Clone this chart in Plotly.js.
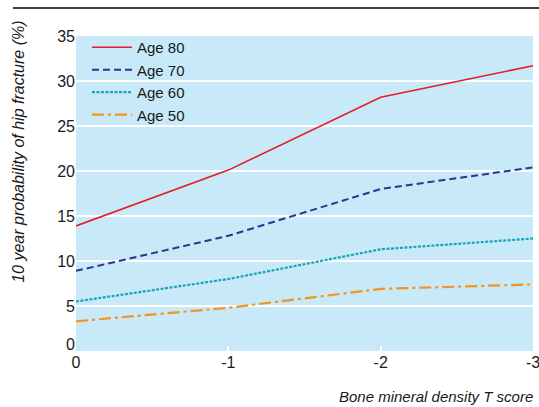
<!DOCTYPE html>
<html><head><meta charset="utf-8">
<script src="https://cdn.plot.ly/plotly-3.0.1.min.js"></script>
<style>body{margin:0;padding:0;background:#fff}#chart{width:539px;height:407px}</style>
</head><body><div id="chart"></div>
<script>
const tScores = [0, -1, -2, -3];
const age80 = [13.9, 20.1, 28.2, 31.7];
const age70 = [8.9, 12.8, 18.0, 20.4];
const age60 = [5.5, 8.0, 11.3, 12.5];
const age50 = [3.3, 4.8, 6.9, 7.4];
const seriesNames = ['Age 80', 'Age 70', 'Age 60', 'Age 50'];
const xTicks = [0, -1, -2, -3];
const yTicks = [0, 5, 10, 15, 20, 25, 30, 35];

const FONT = '"Liberation Sans", Arial, sans-serif';
const tf = {family: FONT, size: 16, color: '#1a1a1a'};
const lf = {family: FONT, size: 15, color: '#1a1a1a'};
const styles = [
  {color: '#e31e26', dash: 'solid', width: 1.6},
  {color: '#2b3590', dash: '7px,4px', width: 2},
  {color: '#17a6b6', dash: '3px,1.5px', width: 2.2},
  {color: '#f5931f', dash: '12px,4px,3px,4px', width: 2.2}
];
const data = [age80, age70, age60, age50].map((ys, i) => ({
  x: tScores, y: ys, name: seriesNames[i], type: 'scatter', mode: 'lines',
  line: styles[i]
}));
// carrier (draws nothing) for the secondary axis that holds the raised "0" label
data.push({x: [tScores[0]], y: [yTicks[0]], yaxis: 'y2', type: 'scatter', mode: 'lines',
  showlegend: false, hoverinfo: 'skip', line: {width: 0}});

const layout = {
  width: 539, height: 407,
  margin: {l: 76, r: 6, t: 36, b: 56},
  paper_bgcolor: '#ffffff', plot_bgcolor: '#c8e9f8',
  font: tf,
  showlegend: true,
  legend: {x: 0.024, y: 1.016, xanchor: 'left', yanchor: 'top', bgcolor: 'rgba(0,0,0,0)',
    font: lf, tracegroupgap: 0, itemwidth: 40},
  xaxis: {range: [0, -3], tickvals: xTicks, ticktext: xTicks.map(String), showgrid: false,
    zeroline: false, ticks: 'inside', ticklen: 5, tickcolor: '#ffffff', tickwidth: 2,
    showline: false, tickfont: tf, ticklabeloverflow: 'allow'},
  yaxis: {range: [0, 35], tickvals: yTicks.slice(1), ticktext: yTicks.slice(1).map(String), showgrid: true,
    gridcolor: '#ffffff', gridwidth: 2, zeroline: false, ticks: '', showline: false,
    tickfont: tf},
  yaxis2: {range: [0, 35], overlaying: 'y', side: 'left', tickvals: yTicks.slice(0, 1),
    ticktext: yTicks.slice(0, 1).map(String), showgrid: false, zeroline: false, ticks: '',
    showline: false, tickfont: tf, ticklabelshift: -7},
  shapes: [{type: 'line', xref: 'paper', yref: 'paper', x0: -0.138, x1: 1.02, y0: 1.089, y1: 1.089,
    line: {color: '#000', width: 1.5}}],
  annotations: [
    {text: '<i>10 year probability of hip fracture (%)</i>', xref: 'paper', yref: 'paper',
      x: -0.125, y: 0.632, textangle: -90, showarrow: false, xanchor: 'center', yanchor: 'middle',
      font: {family: FONT, size: 16, color: '#1a1a1a'}},
    {text: '<i>Bone mineral density T score</i>', xref: 'paper', yref: 'paper',
      x: 0.571, y: -0.146, showarrow: false, xanchor: 'left', yanchor: 'middle',
      font: {family: FONT, size: 15, color: '#1a1a1a'}}
  ]
};
Plotly.newPlot('chart', data, layout, {displayModeBar: false, staticPlot: true});
</script></body></html>
